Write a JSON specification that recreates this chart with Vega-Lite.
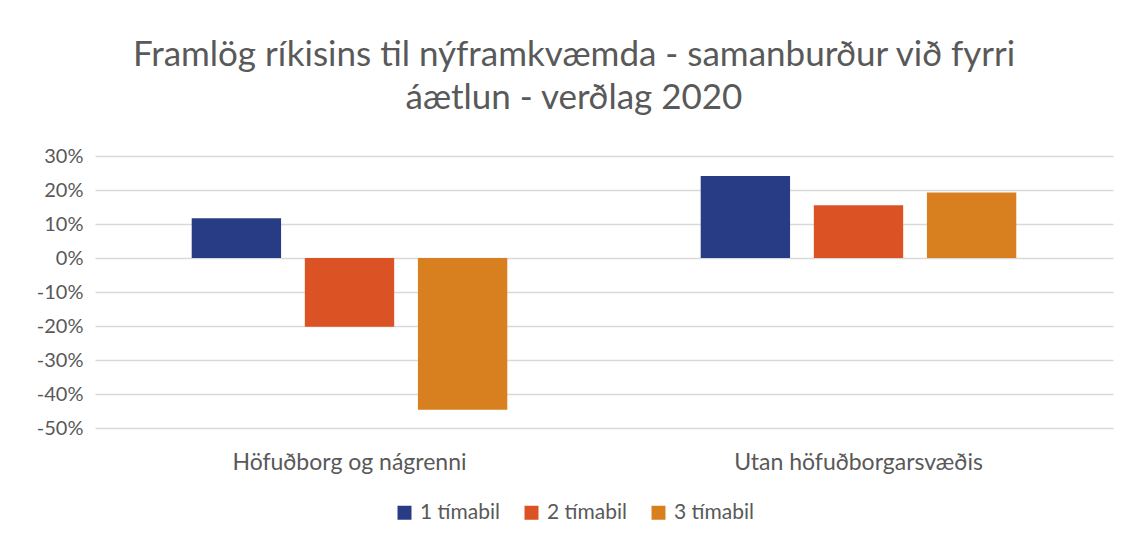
{
  "$schema": "https://vega.github.io/schema/vega-lite/v6.json",
  "width": 1018,
  "height": 272,
  "autosize": {"type": "none"},
  "padding": {"left": 95, "top": 156, "right": 18, "bottom": 116},
  "background": "white",
  "data": {
    "values": [
      {"svaedi": "Höfuðborg og nágrenni", "timabil": "1 tímabil", "value": 0.117},
      {"svaedi": "Höfuðborg og nágrenni", "timabil": "2 tímabil", "value": -0.202},
      {"svaedi": "Höfuðborg og nágrenni", "timabil": "3 tímabil", "value": -0.446},
      {"svaedi": "Utan höfuðborgarsvæðis", "timabil": "1 tímabil", "value": 0.241},
      {"svaedi": "Utan höfuðborgarsvæðis", "timabil": "2 tímabil", "value": 0.155},
      {"svaedi": "Utan höfuðborgarsvæðis", "timabil": "3 tímabil", "value": 0.193}
    ]
  },
  "title": {
    "text": ["Framlög ríkisins til nýframkvæmda - samanburður við fyrri", "áætlun - verðlag 2020"],
    "font": "Lato",
    "fontSize": 35,
    "fontWeight": 400,
    "color": "#595959",
    "lineHeight": 43,
    "anchor": "middle",
    "dx": -30,
    "offset": 30
  },
  "mark": {"type": "bar"},
  "encoding": {
    "x": {
      "field": "svaedi",
      "type": "nominal",
      "sort": null,
      "title": null,
      "scale": {"paddingInner": 0, "paddingOuter": 0},
      "axis": {
        "orient": "bottom",
        "domain": false,
        "ticks": false,
        "labelAngle": 0,
        "labelPadding": 23,
        "labelLimit": 0,
        "labelFont": "Lato",
        "labelFontSize": 23,
        "labelColor": "#595959",
        "grid": false
      }
    },
    "xOffset": {
      "field": "timabil",
      "type": "nominal",
      "sort": null,
      "scale": {"paddingInner": 0.21, "paddingOuter": 0.855}
    },
    "y": {
      "field": "value",
      "type": "quantitative",
      "title": null,
      "scale": {"domain": [-0.5, 0.3], "nice": false, "zero": false},
      "axis": {
        "values": [-0.5, -0.4, -0.3, -0.2, -0.1, 0, 0.1, 0.2, 0.3],
        "format": ".0%",
        "labelExpr": "replace(datum.label, '−', '-')",
        "domain": false,
        "ticks": false,
        "labelPadding": 12,
        "labelFont": "Lato",
        "labelFontSize": 20,
        "labelColor": "#595959",
        "gridColor": "#d9d9d9",
        "gridWidth": 1.5
      }
    },
    "color": {
      "field": "timabil",
      "type": "nominal",
      "sort": null,
      "title": null,
      "scale": {"range": ["#283c86", "#db5224", "#d8801f"]},
      "legend": {
        "orient": "none",
        "direction": "horizontal",
        "legendX": 299,
        "legendY": 346,
        "symbolType": "square",
        "symbolSize": 196,
        "symbolStrokeWidth": 0,
        "symbolOpacity": 1,
        "labelFont": "Lato",
        "labelFontSize": 21,
        "labelColor": "#595959",
        "columnPadding": 21,
        "labelOffset": 5
      }
    }
  },
  "config": {
    "view": {"stroke": null}
  }
}
